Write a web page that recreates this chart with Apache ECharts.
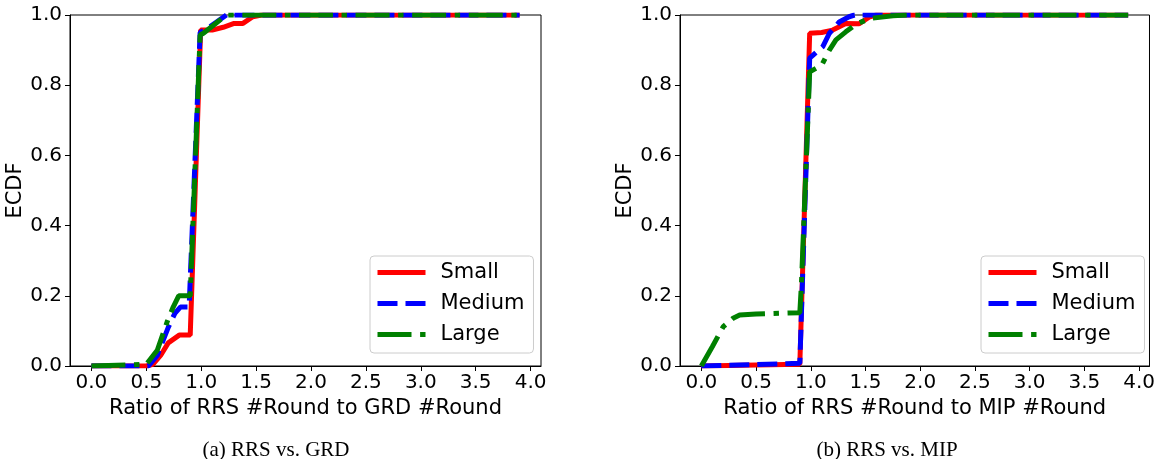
<!DOCTYPE html>
<html lang="en">
<head>
  <meta charset="UTF-8">
  <title>ECDF</title>
  <script src="https://cdn.jsdelivr.net/npm/echarts@6/dist/echarts.min.js"></script>
  <style>
    html, body { margin: 0; padding: 0; background: #fff; }
    #chart { width: 1158px; height: 459px; }
  </style>
</head>
<body>
  <div id="chart"></div>
<script>
// tick labels
let xTicks = [0, 0.5, 1, 1.5, 2, 2.5, 3, 3.5, 4];
let names = ['Small', 'Medium', 'Large'];

// (a) RRS vs. GRD  -  [ratio, ecdf]
let grdSmall = [[0, 0], [0.5, 0], [0.56, 0.005], [0.63, 0.03], [0.7, 0.066], [0.8, 0.088], [0.9, 0.088],
  [0.995, 0.957], [1.1, 0.957], [1.2, 0.965], [1.3, 0.976], [1.38, 0.976], [1.47, 0.995], [1.55, 1], [3.9, 1]];
let grdMedium = [[0, 0], [0.52, 0], [0.6, 0.03], [0.7, 0.11], [0.76, 0.15], [0.81, 0.168], [0.89, 0.168],
  [0.99, 0.95], [1.05, 0.96], [1.14, 0.98], [1.23, 1], [3.9, 1]];
let grdLarge = [[0, 0], [0.5, 0.005], [0.6, 0.045], [0.69, 0.126], [0.745, 0.168], [0.795, 0.2], [0.9, 0.2],
  [0.99, 0.943], [1.02, 0.948], [1.14, 0.978], [1.23, 1], [3.9, 1]];

// (b) RRS vs. MIP
let mipSmall = [[0, 0], [0.5, 0.003], [0.9, 0.005], [0.99, 0.948], [1.1, 0.95], [1.2, 0.957], [1.32, 0.976],
  [1.44, 0.975], [1.54, 0.995], [1.6, 1], [3.9, 1]];
let mipMedium = [[0, 0], [0.5, 0.004], [0.9, 0.008], [0.99, 0.877], [1.11, 0.91], [1.17, 0.948], [1.26, 0.98],
  [1.35, 0.995], [1.4, 1], [3.9, 1]];
let mipLarge = [[0, 0], [0.1, 0.055], [0.2, 0.112], [0.29, 0.136], [0.35, 0.145], [0.5, 0.148], [0.9, 0.152],
  [0.915, 0.236], [0.99, 0.838], [1.1, 0.857], [1.17, 0.9], [1.23, 0.929], [1.32, 0.952], [1.415, 0.974],
  [1.54, 0.99], [1.75, 0.998], [1.9, 1], [3.9, 1]];

let font = 'DejaVu Sans';
let styles = [
  { color: '#ff0000', type: 'solid' },
  { color: '#0000ff', type: [20, 8] },
  { color: '#008000', type: [34, 8.6, 5.4, 8.6] }
];

function xAxis(idx, title) {
  return {
    type: 'value', gridIndex: idx, min: -0.195, max: 4.095,
    name: title, nameLocation: 'middle', nameGap: 30,
    nameTextStyle: { fontFamily: font, fontSize: 21, color: '#000' },
    axisLine: { show: true, onZero: false, lineStyle: { color: '#000', width: 1 } },
    axisTick: { show: true, length: 5, customValues: xTicks, lineStyle: { color: '#000' } },
    axisLabel: { customValues: xTicks, margin: 7, fontFamily: font, fontSize: 20, color: '#000',
      formatter: v => v.toFixed(1) },
    splitLine: { show: false }
  };
}
function yAxis(idx) {
  return {
    type: 'value', gridIndex: idx, min: 0, max: 1, interval: 0.2,
    name: 'ECDF', nameLocation: 'middle', nameGap: 38,
    nameTextStyle: { fontFamily: font, fontSize: 21, color: '#000' },
    axisLine: { show: true, onZero: false, lineStyle: { color: '#000', width: 1 } },
    axisTick: { show: true, length: 5, lineStyle: { color: '#000' } },
    axisLabel: { margin: 8, fontFamily: font, fontSize: 20, color: '#000', formatter: v => v.toFixed(1) },
    splitLine: { show: false }
  };
}
function legend(left) {
  return {
    left: left, top: 256, orient: 'vertical',
    itemWidth: 48, itemHeight: 2, itemGap: 10,
    padding: [6, 9, 8, 5],
    backgroundColor: 'rgba(255,255,255,0.8)',
    borderColor: '#cccccc', borderWidth: 1, borderRadius: 4,
    itemStyle: { opacity: 0 },
    lineStyle: { width: 5 },
    textStyle: { fontFamily: font, fontSize: 21, color: '#000', lineHeight: 21, padding: [0, 0, 0, 10] },
    data: names
  };
}
function lines(idx, sets) {
  return sets.map((d, i) => ({
    name: names[i], type: 'line', xAxisIndex: idx, yAxisIndex: idx,
    data: d, symbol: 'none', showSymbol: false,
    lineStyle: { color: styles[i].color, width: 5, type: styles[i].type },
    itemStyle: { color: styles[i].color }
  }));
}

let myChart = echarts.init(document.getElementById('chart'));
let option = {
  animation: false,
  grid: [
    { left: 70, top: 15, width: 471, height: 351, show: true, borderColor: '#000', borderWidth: 1 },
    { left: 680, top: 15, width: 470, height: 351, show: true, borderColor: '#000', borderWidth: 1 }
  ],
  xAxis: [xAxis(0, 'Ratio of RRS #Round to GRD #Round'), xAxis(1, 'Ratio of RRS #Round to MIP #Round')],
  yAxis: [yAxis(0), yAxis(1)],
  legend: [legend(370), legend(981)],
  graphic: [
    { type: 'text', x: 276, y: 450, style: { text: '(a) RRS vs. GRD', fontFamily: 'Liberation Serif', fontSize: 21,
      fill: '#000', align: 'center', verticalAlign: 'middle' } },
    { type: 'text', x: 887, y: 450, style: { text: '(b) RRS vs. MIP', fontFamily: 'Liberation Serif', fontSize: 21,
      fill: '#000', align: 'center', verticalAlign: 'middle' } }
  ],
  series: lines(0, [grdSmall, grdMedium, grdLarge]).concat(lines(1, [mipSmall, mipMedium, mipLarge]))
};
myChart.setOption(option);
</script>
</body>
</html>
